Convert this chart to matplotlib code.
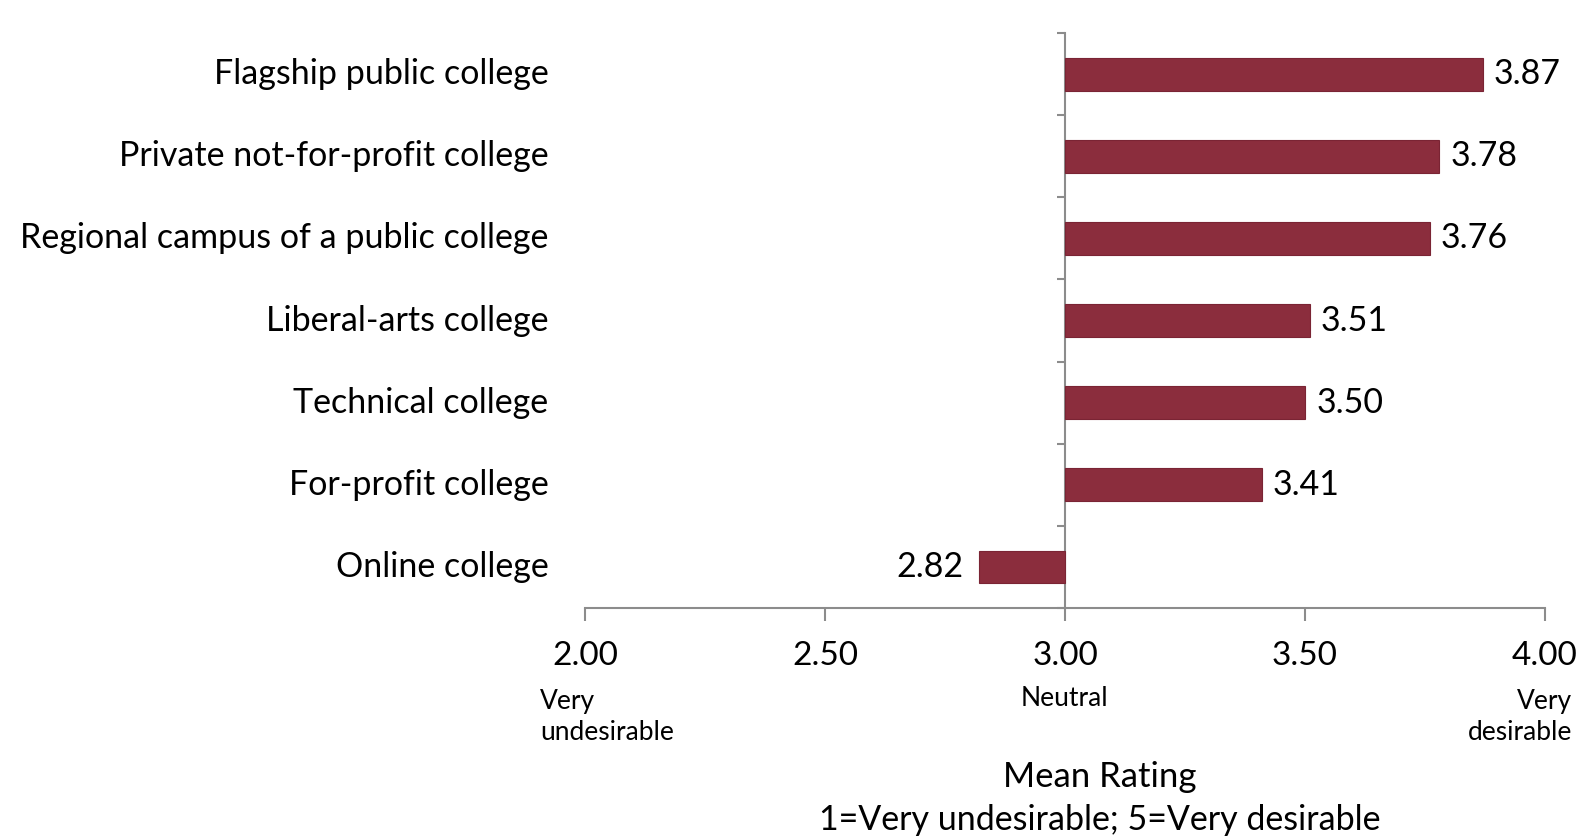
import matplotlib
matplotlib.use("Agg")
import matplotlib.pyplot as plt
from matplotlib.transforms import blended_transform_factory

plt.rcParams['font.family'] = ['Lato', 'DejaVu Sans']

categories = ["Flagship public college", "Private not-for-profit college",
              "Regional campus of a public college", "Liberal-arts college",
              "Technical college", "For-profit college", "Online college"]
values = [3.87, 3.78, 3.76, 3.51, 3.50, 3.41, 2.82]
xticks = [2.00, 2.50, 3.00, 3.50, 4.00]
xtick_labels = ["2.00", "2.50", "3.00", "3.50", "4.00"]

W, H = 1588, 840
fig = plt.figure(figsize=(W / 100, H / 100), dpi=100)
ax = fig.add_axes([585 / W, 1 - 608 / H, 960 / W, (608 - 33) / H])

bar_color = "#8B2D3D"
baseline = 3.0
n = len(categories)
ys = list(range(n))
ax.barh(ys, [v - baseline for v in values], left=baseline, height=0.4,
        color=bar_color, edgecolor="#7a2434", linewidth=0.8, zorder=3)

ax.set_xlim(2.0, 4.0)
ax.set_ylim(n - 0.5, -0.5)

for s in ["top", "right"]:
    ax.spines[s].set_visible(False)
ax.spines["left"].set_position(("data", baseline))
for s in ["left", "bottom"]:
    ax.spines[s].set_color("#8c8c8c")
    ax.spines[s].set_linewidth(1.5)

ax.set_xticks(xticks)
ax.set_xticklabels(xtick_labels, fontsize=24)
ax.tick_params(axis="x", direction="out", length=9, width=1.5, color="#8c8c8c", pad=15)

ax.set_yticks([])
ax.set_yticks([i - 0.5 for i in range(n + 1)], minor=True)
ax.tick_params(axis="y", which="minor", direction="out", length=6, width=1.5, color="#8c8c8c")
ax.tick_params(axis="y", which="major", length=0)

trans = blended_transform_factory(ax.transAxes, ax.transData)
for y, c in zip(ys, categories):
    ax.text(-0.038, y, c, transform=trans, ha="right", va="center", fontsize=24.5)

for y, v in zip(ys, values):
    if v >= baseline:
        ax.annotate(f"{v:.2f}", (v, y), xytext=(8, 0), textcoords="offset points",
                    ha="left", va="center", fontsize=24.5)
    else:
        ax.annotate(f"{v:.2f}", (v, y), xytext=(-11, 0), textcoords="offset points",
                    ha="right", va="center", fontsize=24.5)

fig.text(540 / W, 1 - 717 / H, "Very\nundesirable", ha="left", va="center", fontsize=19, linespacing=1.25)
fig.text(1064 / W, 1 - 699 / H, "Neutral", ha="center", va="center", fontsize=19)
fig.text(1572 / W, 1 - 717 / H, "Very\ndesirable", ha="right", va="center", fontsize=19,
         multialignment="right", linespacing=1.25)
fig.text(1100 / W, 1 - 777 / H, "Mean Rating", ha="center", va="center", fontsize=25)
fig.text(1100 / W, 1 - 820 / H, "1=Very undesirable; 5=Very desirable", ha="center", va="center", fontsize=24.5)

fig.savefig("out.png", dpi=100, facecolor="white")
